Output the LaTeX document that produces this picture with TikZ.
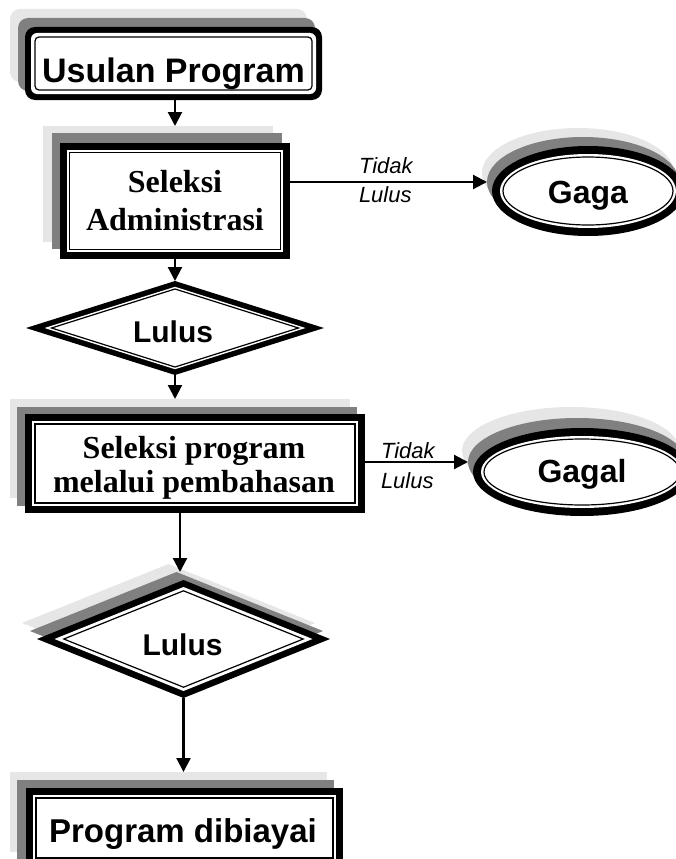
\documentclass[tikz,border=0pt]{standalone}
\usepackage{fontspec}
\setmainfont{Liberation Serif}
\setsansfont{Liberation Sans}
\usetikzlibrary{shapes.geometric,arrows.meta}
\definecolor{shLc}{RGB}{230,230,230}
\definecolor{shDc}{RGB}{128,128,128}
\begin{document}
\begin{tikzpicture}[x=1pt,y=-1pt,
  every node/.style={inner sep=0pt, outer sep=0pt},
  shL/.style={fill=shLc},
  shD/.style={fill=shDc},
  blk/.style={fill=black},
  wht/.style={fill=white},
  thinl/.style={draw=black, line width=1.2pt},
  arr/.style={line width=2.2pt, -{Triangle[length=14pt,width=14pt]}},
  sanstxt/.style={font={\sffamily\bfseries\fontsize{#1}{#1}\selectfont}, anchor=base},
  sertxt/.style={font={\rmfamily\bfseries\fontsize{32}{#1}\selectfont}, align=center},
  lbltxt/.style={font={\sffamily\itshape\fontsize{22}{#1}\selectfont}, align=left, anchor=west},
  rbox/.style={rectangle, rounded corners=#1},
]
\useasboundingbox (0,0) rectangle (676,859);
\clip (0,0) rectangle (676,859);

% ---------- Usulan Program ----------
\node[shL, rbox=10pt, minimum width=297pt, minimum height=73pt] (usulanL) at (158.5,45.5) {};
\node[shD, rbox=10pt, minimum width=297pt, minimum height=73pt] (usulanD) at (166.5,54.5) {};
\node[blk, rbox=10pt, minimum width=297pt, minimum height=73pt] (usulan) at (173.5,63.5) {};
\node[wht, rbox=6pt, minimum width=285pt, minimum height=61pt] (usulanW) at (173.5,63.5) {};
\node[thinl, rbox=4pt, minimum width=277pt, minimum height=53pt] (usulanI) at (173.5,63.5) {};
\node[sanstxt=34] (usulanT) at (173.5,82) {Usulan Program};

% ---------- Seleksi Administrasi ----------
\node[shL, minimum width=230pt, minimum height=116pt] (adminL) at (158,184) {};
\node[shD, minimum width=230pt, minimum height=116pt] (adminD) at (167,191) {};
\node[blk, minimum width=230pt, minimum height=116pt] (admin) at (175,201) {};
\node[wht, minimum width=216pt, minimum height=102pt] (adminW) at (175,201) {};
\node[thinl, minimum width=211pt, minimum height=97pt] (adminI) at (175,201) {};
\node[sertxt=38] (adminT) at (175,203.4) {\strut Seleksi\\\strut Administrasi};

% ---------- Gaga ----------
\node[shL, ellipse, minimum width=192pt, minimum height=90pt] (gagaL) at (578,173) {};
\node[shD, ellipse, minimum width=192pt, minimum height=90pt] (gagaD) at (583,182) {};
\node[blk, ellipse, minimum width=192pt, minimum height=90pt] (gaga) at (588,191) {};
\node[wht, ellipse, minimum width=176pt, minimum height=74pt] (gagaW) at (588,191) {};
\node[thinl, ellipse, minimum width=170pt, minimum height=68pt] (gagaI) at (588,191) {};
\node[sanstxt=32] (gagaT) at (588,203) {Gaga};

% ---------- Lulus 1 ----------
\node[blk, diamond, minimum width=298pt, minimum height=94pt] (lulus1) at (175,328) {};
\node[wht, diamond, minimum width=261pt, minimum height=82.4pt] (lulus1W) at (175,328) {};
\node[thinl, diamond, minimum width=247pt, minimum height=78pt] (lulus1I) at (175,328) {};
\node[sanstxt=30] (lulus1T) at (173,342) {Lulus};

% ---------- Seleksi program ----------
\node[shL, minimum width=340pt, minimum height=99pt] (progL) at (180,448.5) {};
\node[shD, minimum width=340pt, minimum height=99pt] (progD) at (187,456.5) {};
\node[blk, minimum width=340pt, minimum height=99pt] (prog) at (195,463.5) {};
\node[wht, minimum width=326pt, minimum height=85pt] (progW) at (195,463.5) {};
\node[thinl, minimum width=320pt, minimum height=79pt] (progI) at (195,463.5) {};
\node[sertxt=34] (progT) at (194,468.2) {\strut Seleksi program\\\strut melalui pembahasan};

% ---------- Gagal ----------
\node[shL, ellipse, minimum width=218pt, minimum height=88pt] (gagalL) at (571,451) {};
\node[shD, ellipse, minimum width=218pt, minimum height=88pt] (gagalD) at (577,462) {};
\node[blk, ellipse, minimum width=218pt, minimum height=88pt] (gagal) at (582,472) {};
\node[wht, ellipse, minimum width=202pt, minimum height=72pt] (gagalW) at (582,472) {};
\node[thinl, ellipse, minimum width=196pt, minimum height=66pt] (gagalI) at (582,472) {};
\node[sanstxt=32] (gagalT) at (582,482) {Gagal};

% ---------- Lulus 2 ----------
\node[shL, diamond, minimum width=293pt, minimum height=118pt] (lulus2L) at (168.5,623) {};
\node[shD, diamond, minimum width=293pt, minimum height=118pt] (lulus2D) at (176.5,631) {};
\node[blk, diamond, minimum width=293pt, minimum height=118pt] (lulus2) at (183.5,639) {};
\node[wht, diamond, minimum width=258pt, minimum height=104pt] (lulus2W) at (183.5,639) {};
\node[thinl, diamond, minimum width=239.4pt, minimum height=96.4pt] (lulus2I) at (183.5,639) {};
\node[sanstxt=30] (lulus2T) at (182.5,655) {Lulus};

% ---------- Program dibiayai ----------
\node[shL, minimum width=317pt, minimum height=80pt] (finL) at (168.5,812) {};
\node[shD, minimum width=317pt, minimum height=80pt] (finD) at (175.5,820) {};
\node[blk, minimum width=317pt, minimum height=80pt] (fin) at (184.5,828) {};
\node[wht, minimum width=303pt, minimum height=66pt] (finW) at (184.5,828) {};
\node[thinl, minimum width=297pt, minimum height=60pt] (finI) at (184.5,828) {};
\node[sanstxt=33] (finT) at (183,842) {Program dibiayai};

% ---------- connectors ----------
\draw[arr] (admin.north |- usulan.south) -- (admin.north |- adminL.north);
\draw[arr] (admin.east |- gagaD.west) -- (gagaD.west);
\node[lbltxt=29] (lbl1) at (359,181.7) {\strut Tidak\\\strut Lulus};
\draw[arr] (admin.south) -- (lulus1.north);
\draw[arr] (lulus1.south) -- (lulus1.south |- progL.north);
\draw[arr] (prog.east |- gagalD.west) -- (gagalD.west);
\node[lbltxt=30] (lbl2) at (381,467) {\strut Tidak\\\strut Lulus};
\draw[arr] ([xshift=-3.5pt]lulus2.north |- prog.south) -- ([xshift=-3.5pt]lulus2.north |- lulus2D.north);
\draw[arr] (lulus2.south) -- (lulus2.south |- finL.north);
\end{tikzpicture}
\end{document}
